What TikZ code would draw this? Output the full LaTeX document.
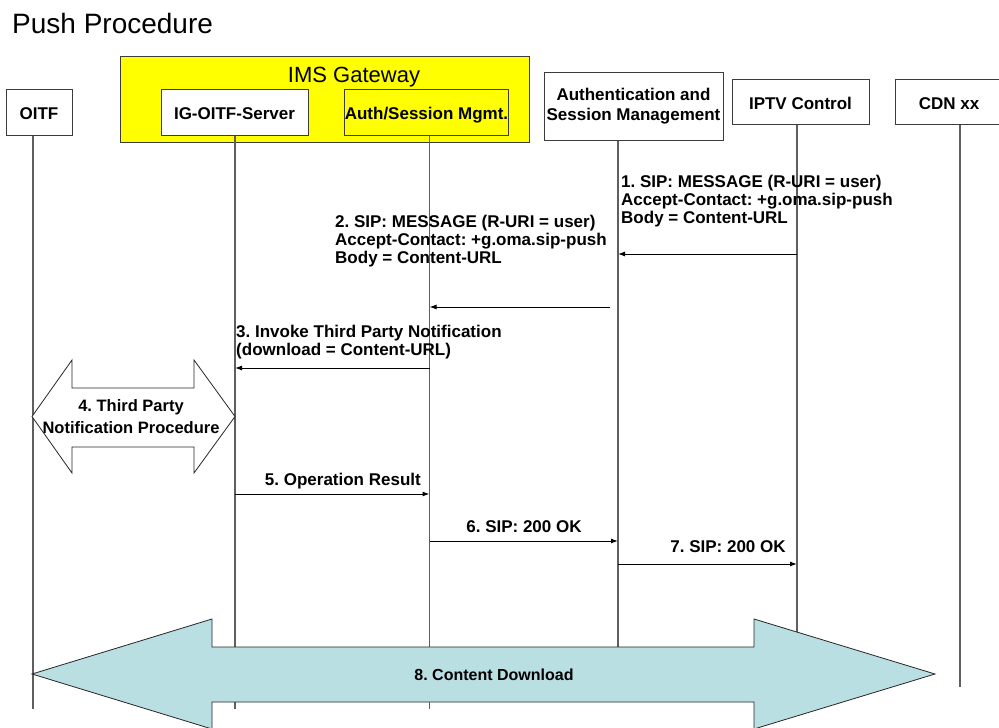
\documentclass[tikz,border=0pt]{standalone}
\usepackage{fontspec}
\setmainfont{Liberation Sans}
\usetikzlibrary{arrows.meta}
\frenchspacing
\definecolor{gwyellow}{RGB}{255,255,0}
\definecolor{dlfill}{RGB}{185,223,227}
\definecolor{lifegray}{RGB}{95,95,95}
\definecolor{boxgray}{RGB}{60,60,60}
\begin{document}
\begin{tikzpicture}[x=1pt,y=-1pt,
  box/.style={draw=boxgray, line width=1pt, fill=white, inner sep=0pt,
    font=\bfseries\fontsize{17}{20}\selectfont},
  life/.style={draw=lifegray, line width=1.4pt},
  msg/.style={draw=black, line width=1pt, -{Latex[length=7pt,width=5pt]}},
  lbl/.style={inner sep=0pt, font=\bfseries\fontsize{17}{18}\selectfont},
  blockarrow/.style={draw=black!85, line width=0.8pt, line join=miter}]
\useasboundingbox (0,0) rectangle (999,728);

% title
\node[anchor=base west, inner sep=0pt, font=\fontsize{28}{34}\selectfont] (title) at (12,33) {Push Procedure};

% IMS gateway container
\node[draw=boxgray, line width=1pt, fill=gwyellow, minimum width=409pt, minimum height=86pt, inner sep=0pt] (igw) at (324.5,99) {};
\node[anchor=base, inner sep=0pt, font=\fontsize{22}{26}\selectfont] (igwtitle) at (354,82) {IMS Gateway};

% participants
\node[box, minimum width=66pt, minimum height=46pt, text height=14pt, text depth=0pt] (oitf) at (39,112) {OITF};
\node[box, minimum width=147pt, minimum height=46pt, text height=14pt, text depth=0pt] (igs) at (234.5,112) {IG-OITF-Server};
\node[box, minimum width=155pt, minimum height=46pt, text height=14pt, text depth=0pt, fill=none] (ism) at (426.5,112) {Auth/Session Mgmt.};
\node[box, minimum width=179pt, minimum height=68pt, align=center] (asm) at (633.5,106) {Authentication and\\Session Management};
\node[box, minimum width=137pt, minimum height=45pt, text height=15pt, text depth=0pt] (iptv) at (800.5,101.5) {IPTV Control};
\node[box, minimum width=108pt, minimum height=45pt, text height=15pt, text depth=0pt] (cdn) at (949,101.5) {CDN xx};

% lifelines
\coordinate (l-oitf) at (33,0 |- oitf.south);
\coordinate (l-igs)  at (235,0 |- igs.south);
\coordinate (l-ism)  at (429.5,0 |- ism.south);
\coordinate (l-asm)  at (618,0 |- asm.south);
\coordinate (l-iptv) at (797,0 |- iptv.south);
\coordinate (l-cdn)  at (960,0 |- cdn.south);
\coordinate (e-oitf) at (33,709);
\coordinate (e-igs)  at (235,709);
\coordinate (e-ism)  at (429.5,709);
\coordinate (e-asm)  at (618,695);
\coordinate (e-iptv) at (797,695);
\coordinate (e-cdn)  at (960,687);
\draw[life] (l-oitf) -- (e-oitf);
\draw[life] (l-igs) -- (e-igs);
\draw[life] (l-ism) -- (e-ism);
\draw[life] (l-asm) -- (e-asm);
\draw[life] (l-iptv) -- (e-iptv);
\draw[life] (l-cdn) -- (e-cdn);

% 1. IPTV Control -> Authentication and Session Management
\draw[msg] (l-iptv |- 0,254) -- (l-asm |- 0,254);
\node[lbl, anchor=base west] (m1) at (621,187) {\begin{tabular}[t]{@{}l@{}}1. SIP: MESSAGE (R-URI = user)\\Accept-Contact: +g.oma.sip-push\\Body = Content-URL\end{tabular}};

% 2. -> Auth/Session Mgmt.
\draw[msg] ([xshift=-8pt]l-asm |- 0,307) -- (l-ism |- 0,307);
\node[lbl, anchor=base west] (m2) at (335,227) {\begin{tabular}[t]{@{}l@{}}2. SIP: MESSAGE (R-URI = user)\\Accept-Contact: +g.oma.sip-push\\Body = Content-URL\end{tabular}};

% 3. -> IG-OITF-Server
\draw[msg] (l-ism |- 0,368) -- (l-igs |- 0,368);
\node[lbl, anchor=base west] (m3) at (236,337) {\begin{tabular}[t]{@{}l@{}}3. Invoke Third Party Notification\\(download = Content-URL)\end{tabular}};

% 4. notification procedure between OITF and IG-OITF-Server
\draw[blockarrow, fill=white] (32,416.5) -- (72,360) -- (72,388) -- (194,388) -- (194,360) -- (235,416.5)
  -- (194,473) -- (194,447) -- (72,447) -- (72,473) -- cycle;
\node[inner sep=0pt, anchor=base, font=\bfseries\fontsize{16.5}{21.5}\selectfont] (n4) at (131,411.5)
  {\begin{tabular}[t]{@{}c@{}}4. Third Party\\Notification Procedure\end{tabular}};

% 5.-7. responses
\draw[msg] (l-igs |- 0,494) -- (l-ism |- 0,494);
\node[lbl, anchor=base east] (m5) at (421,485) {5. Operation Result};
\draw[msg] (l-ism |- 0,541) -- (l-asm |- 0,541);
\node[lbl, anchor=base] (m6) at (524,532) {6. SIP: 200 OK};
\draw[msg] (l-asm |- 0,564) -- (l-iptv |- 0,564);
\node[lbl, anchor=base] (m7) at (728,552) {7. SIP: 200 OK};

% 8. content download
\draw[blockarrow, fill=dlfill] (32,674) -- (212,619) -- (212,647) -- (754,647) -- (754,619) -- (935,674)
  -- (754,729) -- (754,702) -- (212,702) -- (212,729) -- cycle;
\node[inner sep=0pt, anchor=base, font=\bfseries\fontsize{16}{19}\selectfont] (n8) at (494,680) {8. Content Download};
\end{tikzpicture}
\end{document}
